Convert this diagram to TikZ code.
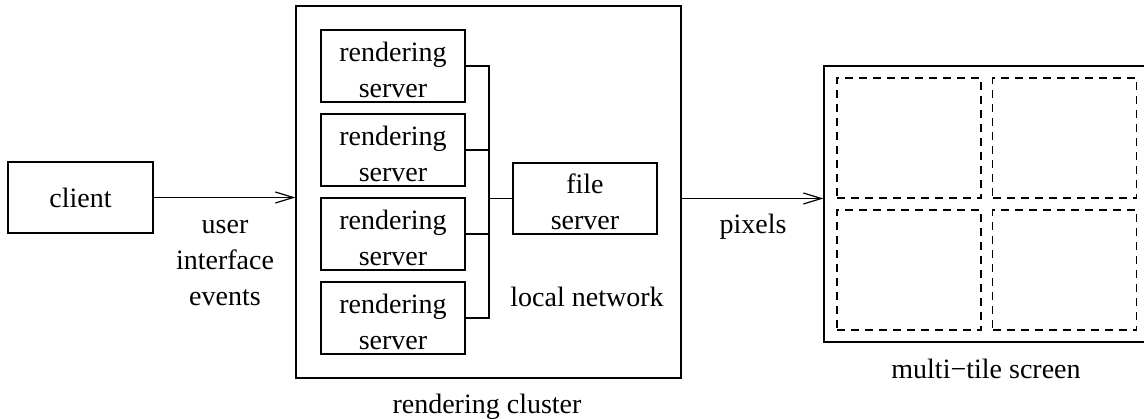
\documentclass[tikz,border=0pt]{standalone}
\usepackage{fontspec}
\setmainfont{Liberation Serif}
\usetikzlibrary{arrows.meta}
\newcommand{\toplift}{\rule{0pt}{27pt}}
\begin{document}
\begin{tikzpicture}[x=1pt,y=-1pt,
  line width=1.2pt,
  every node/.style={font=\fontsize{28}{36}\selectfont},
  box/.style={draw,rectangle,inner sep=0pt,align=center},
  srv/.style={box,minimum width=144pt,minimum height=72pt},
  tile/.style={draw,rectangle,inner sep=0pt,dash pattern=on 8pt off 6pt,minimum width=144pt,minimum height=120pt},
  lbl/.style={inner sep=0pt,anchor=base,align=center},
  arr/.style={-{Straight Barb[length=18pt,width=11pt]}}]
\useasboundingbox (0,0) rectangle (1144,418);
\begin{scope}
\clip (0,0) rectangle (1144,418);
% client
\node[box,minimum width=145pt,minimum height=71pt] (client) at (80.5,197.5) {client};
% cluster
\node[draw,rectangle,inner sep=0pt,minimum width=385pt,minimum height=372pt] (cluster) at (488.5,192) {};
\node[srv] (rs1) at (393,66) {\toplift rendering\\server};
\node[srv] (rs2) at (393,150) {\toplift rendering\\server};
\node[srv] (rs3) at (393,234) {\toplift rendering\\server};
\node[srv] (rs4) at (393,318) {\toplift rendering\\server};
\node[box,minimum width=144pt,minimum height=71pt] (fs) at (585,198.5) {\toplift file\\server};
\coordinate (bus) at (489,0);
\draw (rs1.east) -- (rs1.east -| bus) -- (rs4.east -| bus) -- (rs4.east);
\draw (rs2.east) -- (rs2.east -| bus);
\draw (rs3.east) -- (rs3.east -| bus);
\draw (fs.west) -- (fs.west -| bus);
% screen
\node[draw,rectangle,inner sep=0pt,minimum width=325pt,minimum height=276pt] (screen) at (986.5,204) {};
\node[tile] (t1) at (909,138) {};
\node[tile] (t2) at (1064.5,138) {};
\node[tile] (t3) at (909,270) {};
\node[tile] (t4) at (1064.5,270) {};
% connectors
\draw[arr] (client.east) -- (client.east -| cluster.west);
\draw[arr] (fs.east -| cluster.east) -- (fs.east -| screen.west);
% labels
\node[lbl] (lue) at (225,305) {user\\interface\\events};
\node[lbl] (lpx) at (753,233) {pixels};
\node[lbl] (lln) at (587,306) {local network};
\node[lbl] (lrc) at (487,413) {rendering cluster};
\node[lbl] (lms) at (986,378) {multi−tile screen};
\end{scope}
\end{tikzpicture}
\end{document}
